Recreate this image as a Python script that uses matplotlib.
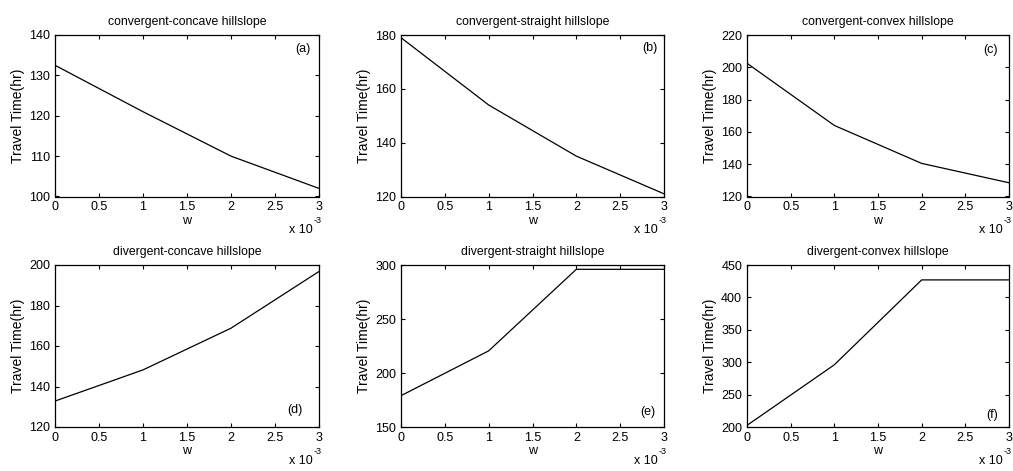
import matplotlib

matplotlib.use("Agg")
import matplotlib.pyplot as plt  # noqa: E402

plt.rcParams["font.family"] = ["Liberation Sans", "DejaVu Sans"]
plt.rcParams["axes.linewidth"] = 0.9

# 데이터: w (x 10^-3) 대 travel time (hr)
w = [0.0, 1.0, 2.0, 3.0]
conv_concave = [132.5, 121.0, 110.0, 102.0]
conv_straight = [179.0, 154.0, 135.0, 121.0]
conv_convex = [202.5, 164.0, 140.5, 128.5]
div_concave = [132.8, 148.2, 168.8, 196.8]
div_straight = [179.0, 220.5, 296.0, 296.0]
div_convex = [202.5, 296.0, 427.0, 427.0]

titles = ["convergent-concave hillslope", "convergent-straight hillslope",
          "convergent-convex hillslope", "divergent-concave hillslope",
          "divergent-straight hillslope", "divergent-convex hillslope"]
tags = ["(a)", "(b)", "(c)", "(d)", "(e)", "(f)"]
series = [conv_concave, conv_straight, conv_convex,
          div_concave, div_straight, div_convex]
ylims = [(100, 140), (120, 180), (120, 220), (120, 200), (150, 300), (200, 450)]
yticks = [[100, 110, 120, 130, 140], [120, 140, 160, 180],
          [120, 140, 160, 180, 200, 220], [120, 140, 160, 180, 200],
          [150, 200, 250, 300], [200, 250, 300, 350, 400, 450]]
xticks = [0, 0.5, 1, 1.5, 2, 2.5, 3]
xticklabels = ["0", "0.5", "1", "1.5", "2", "2.5", "3"]

# 레이아웃(픽셀 → 비율)
W, H = 1013, 471
cols = [(55, 264), (401, 263), (747, 262)]
rows = [(35, 196.5), (265, 427)]
tag_pos = [(0.966, 0.913), (0.977, 0.92), (0.958, 0.91),
           (0.939, 0.105), (0.966, 0.093), (0.958, 0.074)]

fig = plt.figure(figsize=(W / 100, H / 100), dpi=100)
for i in range(6):
    r, c = divmod(i, 3)
    left, width = cols[c]
    top, bottom = rows[r]
    ax = fig.add_axes((left / W, 1 - bottom / H, width / W, (bottom - top) / H))
    ax.plot(w, series[i], color="black", linewidth=0.9)
    ax.set_xlim(0, 3)
    ax.set_ylim(*ylims[i])
    ax.set_xticks(xticks)
    ax.set_xticklabels(xticklabels)
    ax.set_yticks(yticks[i])
    ax.tick_params(direction="in", top=True, right=True, length=3, width=0.8,
                   labelsize=9, pad=3.5)
    ax.set_title(titles[i], fontsize=8.8, pad=7)
    ax.set_xlabel("w", fontsize=9, labelpad=1)
    ax.set_ylabel("Travel Time(hr)", fontsize=10, labelpad=3)
    # MATLAB 스타일 배율 표기 "x 10^-3"
    ax.text(0.977, -0.226, "x 10", transform=ax.transAxes,
            ha="right", va="baseline", fontsize=9)
    ax.text(0.979, -0.165, "-3", transform=ax.transAxes,
            ha="left", va="baseline", fontsize=6.5)
    tx, ty = tag_pos[i]
    ax.text(tx, ty, tags[i], transform=ax.transAxes, ha="right", va="center",
            fontsize=9)

fig.savefig("out.png", dpi=100, facecolor="white")
plt.close(fig)
